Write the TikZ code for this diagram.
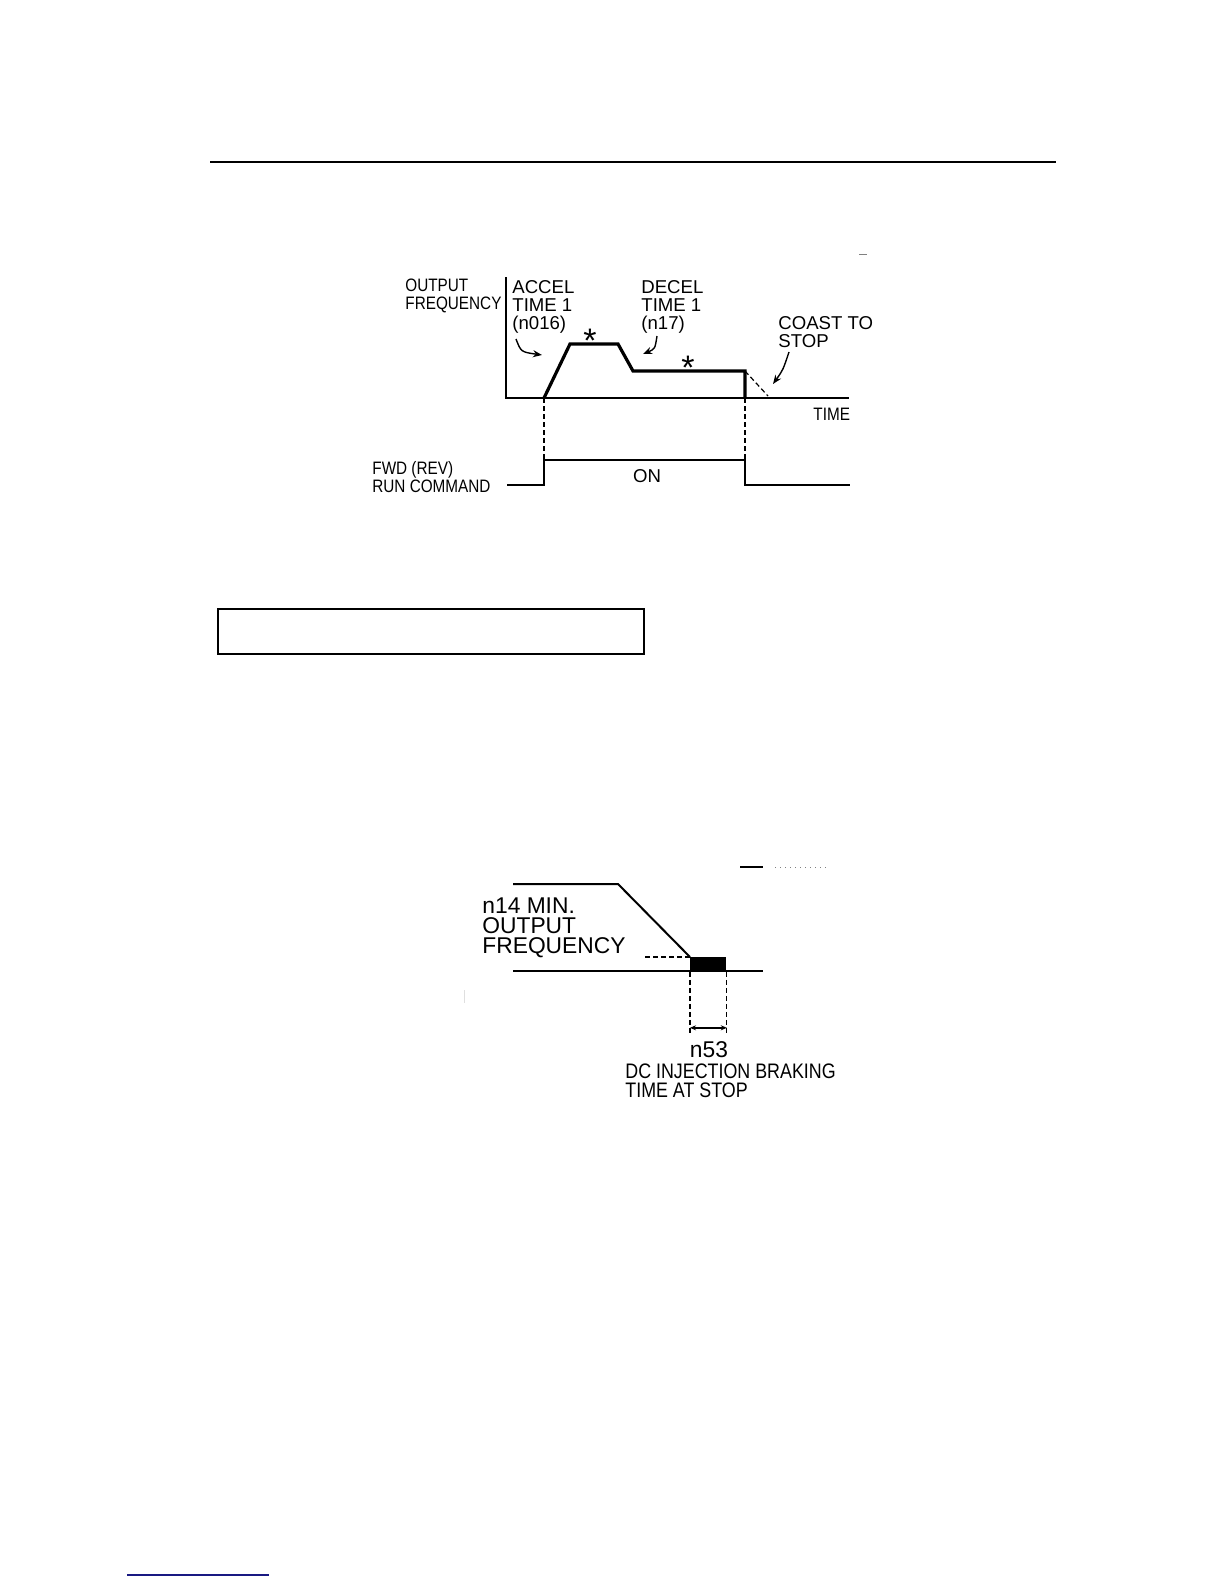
\documentclass[tikz,border=0pt]{standalone}
\usepackage{fontspec}
\setmainfont{Liberation Sans}
\newfontfamily\condfont{Liberation Sans}[FakeStretch=0.85]
\usetikzlibrary{arrows.meta, positioning, calc}
\definecolor{linkblue}{RGB}{25,25,130}
\tikzset{
    axis/.style={line width=1pt, draw=black},
    trace/.style={line width=1.6pt, draw=black, line join=miter},
    guide/.style={line width=0.6pt, dash pattern=on 2.5pt off 1.5pt},
    label_cond/.style={inner sep=0pt, anchor=base west, align=left, font=\condfont\fontsize{9}{9}\selectfont},
    label_wide/.style={inner sep=0pt, anchor=base west, align=left, font=\fontsize{9.3}{9}\selectfont},
    label_big/.style={inner sep=0pt, anchor=base west, align=left, font=\fontsize{11.4}{10}\selectfont},
    star/.style={inner sep=0pt, anchor=base, font=\fontsize{17}{17}\selectfont},
    pointer/.style={line width=0.7pt, -{Stealth[length=4.5pt, width=3.5pt]}},
    span/.style={line width=0.7pt, {Stealth[length=3pt, width=2.5pt]}-{Stealth[length=3pt, width=2.5pt]}}
}
\begin{document}
\begin{tikzpicture}[x=0.5pt, y=-0.5pt]
    \useasboundingbox (0,0) rectangle (1224,1584);
    \draw[line width=1.2pt] (210,162) -- (1056,162);
    \draw[line width=0.4pt, gray] (859,254) -- (867,254);

    \coordinate (ytop) at (506,277);
    \coordinate (o) at (506,398);
    \coordinate (xend) at (849,398);
    \coordinate (t0) at (544,398);
    \coordinate (a1) at (570,344);
    \coordinate (a2) at (618,344);
    \coordinate (d1) at (633,371);
    \coordinate (d2) at (745,371);
    \coordinate (t1) at (745,398);
    \coordinate (cs) at (768,396);
    \coordinate (r0) at (507,485);
    \coordinate (r1) at (544,485);
    \coordinate (r1top) at (544,460);
    \coordinate (r2top) at (745,460);
    \coordinate (r2) at (745,485);
    \coordinate (r3) at (850,485);

    \draw[axis] (ytop) -- (o) -- (xend);
    \draw[trace] (t0) -- (a1) -- (a2) -- (d1) -- (d2) -- (t1);
    \draw[guide] (d2) -- (cs);
    \draw[guide] (t0) -- (r1top);
    \draw[guide] (t1) -- (r2top);
    \draw[trace, line width=1.3pt] (r0) -- (r1) -- (r1top) -- (r2top) -- (r2) -- (r3);

    \node[label_cond] (ofreq) at (405,309) {OUTPUT\\FREQUENCY};
    \node[label_wide] (accel) at (512,329) {ACCEL\\TIME 1\\(n016)};
    \node[label_wide] (decel) at (641,329) {DECEL\\TIME 1\\(n17)};
    \node[label_wide] (coast) at (778,347) {COAST TO\\STOP};
    \node[label_cond] (time) at (813,420) {TIME};
    \node[label_cond] (runcmd) at (372,492) {FWD (REV)\\RUN COMMAND};
    \node[label_wide, anchor=base] (on) at (647,482) {ON};
    \node[star] (star1) at (590,352) {*};
    \node[star] (star2) at (688,379) {*};

    \coordinate (accTail) at (516,339);
    \coordinate (accHead) at (542,355);
    \coordinate (decTail) at (657,336);
    \coordinate (decHead) at (643,354);
    \coordinate (cstTail) at (789,352);
    \coordinate (cstHead) at (773,384);
    \draw[pointer] (accTail) .. controls (521,352) .. (accHead);
    \draw[pointer] (decTail) .. controls (655,349) .. (decHead);
    \draw[pointer] (cstTail) .. controls (783,370) .. (cstHead);

    \node[draw, line width=1pt, minimum width=213pt, minimum height=22.5pt, inner sep=0pt, anchor=north west] (bar) at (217,608) {};

    \draw[line width=0.6pt] (740,867) -- (763,867);
    \draw[line width=0.5pt, dotted, gray] (775,867) -- (827,867);
    \draw[line width=0.5pt, gray!25] (464,990) -- (464,1003);

    \coordinate (ftop) at (513,884);
    \coordinate (fknee) at (618,884);
    \coordinate (fmin) at (690,957);
    \coordinate (fdash) at (645,957);
    \coordinate (b0) at (513,971);
    \coordinate (b1) at (763,971);

    \draw[axis] (ftop) -- (fknee) -- (fmin);
    \draw[axis] (b0) -- (b1);
    \node[fill=black, minimum width=18pt, minimum height=7pt, inner sep=0pt, anchor=north west] (dcblock) at (fmin) {};
    \draw[guide] (fdash) -- (fmin);
    \coordinate (dl) at ($(dcblock.south west)+(0,64)$);
    \coordinate (dr) at ($(dcblock.south east)+(0,64)$);
    \draw[guide] (dcblock.south west) -- (dl);
    \draw[guide] (dcblock.south east) -- (dr);
    \draw[span] ($(dcblock.south west)+(0,56)$) -- ($(dcblock.south east)+(0,56)$);

    \node[label_big] (minfreq) at (482,953) {n14 MIN.\\OUTPUT\\FREQUENCY};
    \node[label_big, anchor=base] (n53) at (709,1057) {n53};
    \node[label_cond, font=\condfont\fontsize{10.5}{9.5}\selectfont] (dcbrake) at (625,1097) {DC INJECTION BRAKING\\TIME AT STOP};

    \draw[line width=0.8pt, linkblue] (127,1575) -- (269,1575);
\end{tikzpicture}
\end{document}
